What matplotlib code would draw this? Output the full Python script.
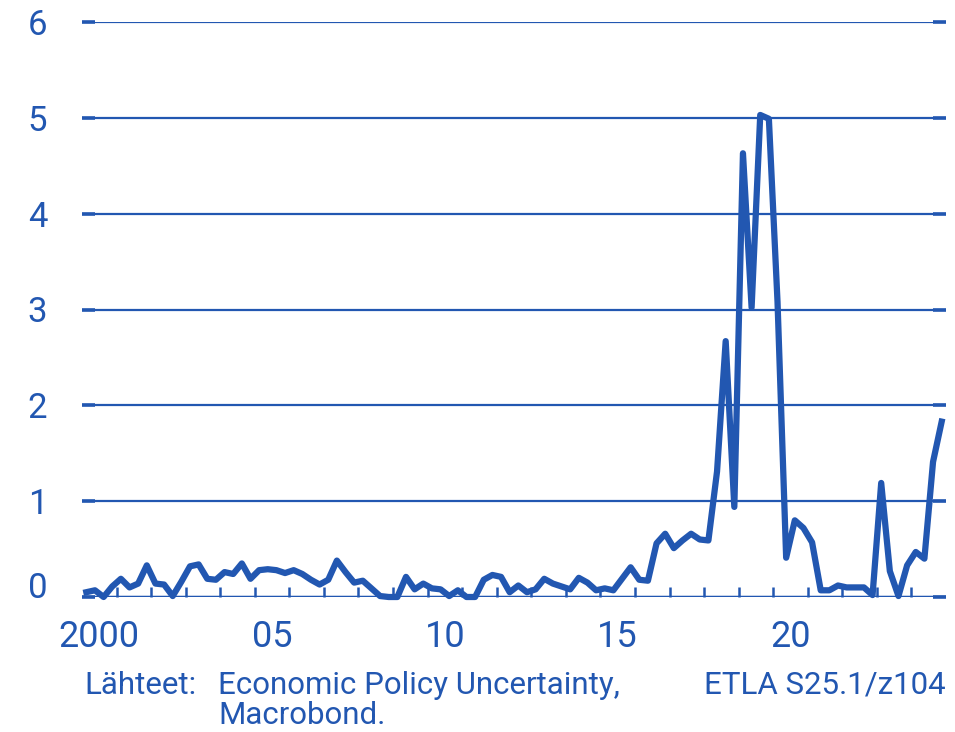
import numpy as np
import matplotlib
matplotlib.use("Agg")
import matplotlib.pyplot as plt
import matplotlib.transforms as mtransforms
from matplotlib.ticker import FixedLocator, NullFormatter

# quarterly index values 2000Q1 - 2024Q4
start_year = 2000
values = [
    0.05, 0.07, 0.00, 0.11,   # 2000
    0.19, 0.10, 0.14, 0.33,   # 2001
    0.14, 0.13, 0.01, 0.16,   # 2002
    0.32, 0.34, 0.19, 0.18,   # 2003
    0.26, 0.24, 0.35, 0.19,   # 2004
    0.28, 0.29, 0.28, 0.25,   # 2005
    0.28, 0.24, 0.18, 0.13,   # 2006
    0.18, 0.38, 0.26, 0.15,   # 2007
    0.17, 0.09, 0.01, 0.00,   # 2008
    0.00, 0.21, 0.08, 0.14,   # 2009
    0.09, 0.08, 0.01, 0.07,   # 2010
    0.00, 0.00, 0.18, 0.23,   # 2011
    0.21, 0.05, 0.12, 0.05,   # 2012
    0.08, 0.19, 0.14, 0.11,   # 2013
    0.08, 0.20, 0.15, 0.07,   # 2014
    0.09, 0.07, 0.19, 0.31,   # 2015
    0.18, 0.17, 0.56, 0.66,   # 2016
    0.51, 0.59, 0.66, 0.60,   # 2017
    0.59, 1.31, 2.67, 0.94,   # 2018
    4.63, 3.02, 5.03, 4.99,   # 2019
    3.08, 0.41, 0.80, 0.72,   # 2020
    0.57, 0.07, 0.07, 0.12,   # 2021
    0.10, 0.10, 0.10, 0.02,   # 2022
    1.19, 0.27, 0.01, 0.33,   # 2023
    0.47, 0.40, 1.41, 1.83,   # 2024
]
x_tick_labels = ["2000", "05", "10", "15", "20"]
y_ticks = [0, 1, 2, 3, 4, 5, 6]
source_text = "Lähteet:"
source_lines = ["Economic Policy Uncertainty,", "Macrobond."]
chart_id = "ETLA S25.1/z104"

blue = "#2257b1"
plt.rcParams["font.family"] = ["Roboto", "DejaVu Sans"]

# quarter midpoints
x = start_year + (np.arange(len(values)) + 0.5) / 4.0

fig = plt.figure(figsize=(9.55, 7.32), dpi=100)
ax = fig.add_axes([82 / 955, 1 - 597 / 732, (946 - 82) / 955, (597 - 22) / 732])

ax.plot(x, values, color=blue, linewidth=4.5, solid_joinstyle="round",
        clip_on=False, zorder=3)

ax.set_xlim(2000, 2025)
ax.set_ylim(0, 6)

# gridlines
ax.set_yticks(y_ticks)
ax.set_yticklabels([str(v) for v in y_ticks])
ax.grid(axis="y", color=blue, linewidth=1.6)
ax.axhline(0, color=blue, linewidth=2.4, zorder=2)
ax.set_axisbelow(True)

for side in ["left", "right", "top", "bottom"]:
    ax.spines[side].set_visible(False)

ax.tick_params(axis="y", which="major", direction="in", length=9.5, width=2.6,
               color=blue, labelcolor=blue, labelsize=25, pad=25,
               left=True, right=True)

# the zero label sits a little above the baseline
zero_label = ax.get_yticklabels()[0]
zero_label.set_transform(zero_label.get_transform() +
                         mtransforms.ScaledTranslation(0, 12 / 100, fig.dpi_scale_trans))

# year ticks at every year boundary, labels at mid-year
ax.xaxis.set_major_locator(FixedLocator(np.arange(2001, 2025)))
ax.xaxis.set_major_formatter(NullFormatter())
ax.xaxis.set_minor_locator(FixedLocator([2000.5, 2005.5, 2010.5, 2015.5, 2020.5]))
ax.set_xticklabels(x_tick_labels, minor=True)
ax.tick_params(axis="x", which="major", direction="in", length=7.5, width=1.8,
               color=blue)
ax.tick_params(axis="x", which="minor", length=0, labelcolor=blue,
               labelsize=26, pad=16)

# source footnote
foot_size = 22.5
fig.text(84 / 955, 1 - 685 / 732, source_text, color=blue, fontsize=foot_size,
         ha="left", va="center")
for i, line in enumerate(source_lines):
    fig.text(218 / 955, 1 - (685 + 31 * i) / 732, line, color=blue,
             fontsize=foot_size, ha="left", va="center")
fig.text(946 / 955, 1 - 685 / 732, chart_id, color=blue, fontsize=foot_size,
         ha="right", va="center")

fig.savefig("out.png", dpi=100)
